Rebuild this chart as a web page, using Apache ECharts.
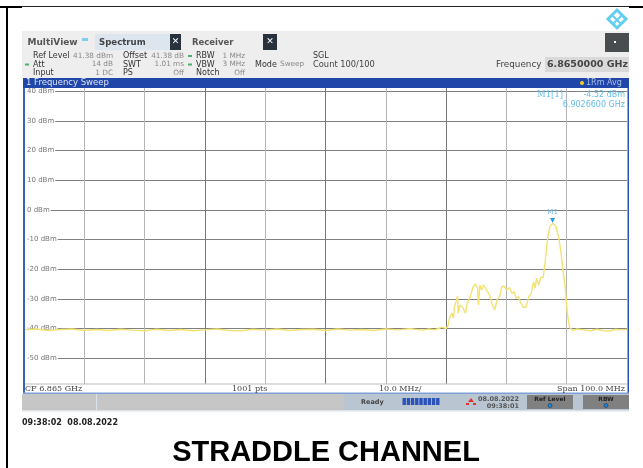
<!DOCTYPE html>
<html><head><meta charset="utf-8">
<script src="https://cdn.jsdelivr.net/npm/echarts@6/dist/echarts.min.js"></script>
<style>html,body{margin:0;padding:0;background:#fff}#c{width:643px;height:468px}</style>
</head><body><div id="c"></div>
<script>
// Offset from span start (6.815 GHz) in MHz
const freqOffsetMHz = [0,2,4,6,8,10,12,14,16,18,20,22,24,26,28,30,32,34,36,38,40,42,44,46,48,50,52,54,56,58,60,62,64,66,
67.3,67.9,68.4,69.3,70,70.3,70.6,71,71.2,71.4,71.9,72,72.3,72.75,73.2,73.5,74,74.5,74.85,75.2,75.35,75.6,75.9,76.2,76.6,77.2,77.6,78.05,78.5,78.9,79.2,79.6,80.05,80.5,80.9,81.3,81.6,82,82.4,82.8,83.25,83.7,84.1,84.5,84.75,85,85.35,85.7,86.1,86.4,86.8,87.2,87.66,88.2,88.7,89,89.45,89.8,90.1,90.45,91.1,91.7,92.8,93.9,95,96.2,97.2,98.1,99,100];
const traceDbm = [-40.4,-40.1,-40.6,-40.3,-40.1,-40.6,-40.3,-40.6,-40.2,-40.5,-40.7,-40.2,-40.6,-40.3,-40.7,-40.4,-40.1,-40.6,-40.7,-40.2,-40.5,-40.1,-40.6,-40.3,-40.2,-40.6,-40.1,-40.5,-40.3,-40.6,-40.1,-40.4,-40,-40.5,
-40.1,-40.4,-40.2,-39.5,-40,-39.1,-36,-34.8,-36.5,-32.6,-29,-34.8,-32.1,-32.8,-34.8,-31.5,-29.2,-25.8,-24.9,-26.1,-32,-25.3,-27,-25.2,-26.7,-28.6,-31.5,-33.7,-30.1,-29.2,-26.1,-25.6,-27,-26.1,-28.1,-27.5,-29.8,-29.2,-31.5,-32.8,-32.8,-29.2,-28.1,-24.2,-26.4,-23,-25.3,-22.7,-22.7,-18,-10.1,-5.6,-4.52,-5.4,-9.6,-13.5,-21.3,-27,-34.8,-39.5,-40.7,-40.1,-40.4,-40.7,-40.2,-40.7,-40.8,-40.2,-40.4,-40.3];
const yTicks = [-50,-40,-30,-20,-10,0,10,20,30,40];
const markerPoint = [87.66,-4.52];
const readyBarSegments = [0,1,2,3,4,5,6,7,8];

const T=(x,y,text,o={})=>({type:'text',silent:true,z:20,x,y,style:Object.assign({text,fill:'#555',font:'8px "DejaVu Sans"',textAlign:'left',textVerticalAlign:'middle'},o)});
const R=(x,y,w,h,fill,z=5)=>({type:'rect',silent:true,z,shape:{x,y,width:w,height:h},style:{fill}});
const sans='"DejaVu Sans"', ser='"DejaVu Serif"';
const val='7.3px '+sans, cy='#63bde6';
const deco=[
 // page frame
 R(0,6,643,1,'#222'),R(0,6,22,2,'#000'),R(629,6,14,2,'#000'),R(6,6,2,462,'#000'),
 // logo
 {type:'polygon',silent:true,z:6,shape:{points:[[617,10],[626,19],[617,28],[608,19]]},style:{fill:'none',stroke:'#62cfee',lineWidth:3}},
 {type:'polyline',silent:true,z:6,shape:{points:[[612,15],[621,24]]},style:{stroke:'#62cfee',lineWidth:2}},
 {type:'polyline',silent:true,z:6,shape:{points:[[622,15],[613,24]]},style:{stroke:'#62cfee',lineWidth:2}},
 // toolbar
 R(22,31,607,47,'#eeeeee'),
 R(95,34,75,16,'#dde6ee',6),R(170,34,11,16,'#27323c',6),R(263,34,14,16,'#27323c',6),R(605,33,24,19,'#484d50',6),
 R(82,38,6,3,'#7fd0f0',6),R(614,41,2,2,'#fff',7),
 R(545,57,84,15,'#d9d9d9',6),
 T(175.5,42,'✕',{fill:'#fff',font:'bold 9px '+sans,textAlign:'center'}),
 T(270,42,'✕',{fill:'#fff',font:'bold 9px '+sans,textAlign:'center'}),
 T(27.5,42.5,'MultiView',{font:'bold 9px '+sans,fill:'#555'}),
 T(99,42.5,'Spectrum',{font:'bold 8.6px '+sans,fill:'#444'}),
 T(192,42.5,'Receiver',{font:'bold 8.5px '+sans,fill:'#555'}),
 T(33,56,'Ref Level',{fill:'#333'}),T(113,56,'41.38 dBm',{textAlign:'right',fill:'#888',font:val}),
 T(33,64.5,'Att',{fill:'#333'}),T(113,64.5,'14 dB',{textAlign:'right',fill:'#888',font:val}),
 T(33,73,'Input',{fill:'#333'}),T(113,73,'1 DC',{textAlign:'right',fill:'#888',font:val}),
 T(123,56,'Offset',{fill:'#333'}),T(184,56,'41.38 dB',{textAlign:'right',fill:'#888',font:val}),
 T(123,64.5,'SWT',{fill:'#333'}),T(184,64.5,'1.01 ms',{textAlign:'right',fill:'#888',font:val}),
 T(123,73,'PS',{fill:'#333'}),T(184,73,'Off',{textAlign:'right',fill:'#888',font:val}),
 R(188,55,4,2,'#4caf70',6),R(188,63.5,4,2,'#4caf70',6),R(25,63.5,4,2,'#4caf70',6),
 T(196,56,'RBW',{fill:'#333'}),T(245,56,'1 MHz',{textAlign:'right',fill:'#888',font:val}),
 T(196,64.5,'VBW',{fill:'#333'}),T(245,64.5,'3 MHz',{textAlign:'right',fill:'#888',font:val}),
 T(196,73,'Notch',{fill:'#333'}),T(245,73,'Off',{textAlign:'right',fill:'#888',font:val}),
 T(255,64.5,'Mode',{fill:'#333'}),T(280,64.5,'Sweep',{fill:'#888',font:val}),
 T(313,56,'SGL',{fill:'#333'}),T(313,64.5,'Count 100/100',{fill:'#444',font:'8.3px '+sans}),
 T(496,65,'Frequency',{font:'8.8px '+sans,fill:'#444'}),
 T(628,65,'6.8650000 GHz',{font:'bold 9.5px '+sans,fill:'#444',textAlign:'right'}),
 // sweep header
 R(23,78,606,10,'#2046aa'),
 T(26,83,'1 Frequency Sweep',{font:'8.5px '+sans,fill:'#dfe6f5'}),
 {type:'circle',silent:true,z:20,shape:{cx:582,cy:83,r:2},style:{fill:'#f2d21c'}},
 T(586,83,'1Rm Avg',{font:'8px '+sans,fill:'#a9bfe8'}),
 // plot border
 R(23,88,2,305,'#3a62bb',15),R(627.5,88,1.5,305,'#2a50b0',15),R(23,392.5,606,1.5,'#7f9fd8',15),
 R(25,384,602,8.5,'#fff',3),R(25,383.5,602,1,'#bbb',4),
 T(25,389,'CF 6.865 GHz',{font:'8px '+ser,fill:'#444'}),
 T(232,389,'1001 pts',{font:'8px '+ser,fill:'#444'}),
 T(379,389,'10.0 MHz/',{font:'8px '+ser,fill:'#444'}),
 T(625,389,'Span 100.0 MHz',{font:'8px '+ser,fill:'#444',textAlign:'right'}),
 // marker readout
 T(537,94.5,'M1[1]',{font:'8.5px '+ser,fill:cy}),
 T(625,94.5,'-4.52 dBm',{font:'8px '+sans,fill:cy,textAlign:'right'}),
 T(625,104.5,'6.9026600 GHz',{font:'8px '+sans,fill:cy,textAlign:'right'}),
 // status bar
 R(22,394,322,16.5,'#c6c6c6'),R(344,394,285,16.5,'#b9c6d1'),R(22,410.5,607,1,'#dde4ea'),R(96,394,1,16.5,'#dbe3ea',6),
 T(361,402,'Ready',{font:'bold 6.5px '+sans,fill:'#444'}),
 ...readyBarSegments.map(i=>R(402.5+i*4.2,398,3.4,7,'#2a52b8',6)),
 {type:'polygon',silent:true,z:6,shape:{points:[[471,398],[474,402],[468,402]]},style:{fill:'#e0342c'}},
 R(466,403,3,2,'#e0342c',6),R(473,403,3,2,'#e0342c',6),
 T(519,399,'08.08.2022',{font:'bold 6.5px '+sans,fill:'#555',textAlign:'right'}),
 T(519,406,'09:38:01',{font:'bold 6.5px '+sans,fill:'#555',textAlign:'right'}),
 R(527,395,46,14,'#808080',6),R(583,395,46,14,'#808080',6),
 T(550,399,'Ref Level',{font:'bold 6px '+sans,fill:'#222',textAlign:'center'}),
 T(606,399,'RBW',{font:'bold 6px '+sans,fill:'#222',textAlign:'center'}),
 {type:'circle',silent:true,z:20,shape:{cx:550,cy:405.5,r:2},style:{fill:'#1e88e0',stroke:'#123',lineWidth:.5}},
 {type:'circle',silent:true,z:20,shape:{cx:606,cy:405.5,r:2},style:{fill:'#1e88e0',stroke:'#123',lineWidth:.5}},
 // captions
 T(22,422.5,'09:38:02  08.08.2022',{font:'bold 8px '+sans,fill:'#222'}),
 T(326,452.5,'STRADDLE CHANNEL',{font:'bold 29px "Liberation Sans"',fill:'#000',textAlign:'center'})
];
const chart=echarts.init(document.getElementById('c'),null,{renderer:'canvas'});
chart.setOption({
 animation:false,
 grid:{left:24,right:16,top:87.2,height:296.7,show:false},
 xAxis:{type:'value',min:0,max:100,interval:10,
  axisLine:{show:false},axisTick:{show:false},axisLabel:{show:false},
  splitLine:{show:true,showMinLine:false,showMaxLine:false,lineStyle:{width:1,color:['#b5b5b5','#b5b5b5','#777','#b5b5b5','#777','#b5b5b5','#777','#b5b5b5','#b5b5b5']}}},
 yAxis:{type:'value',min:-58.62,max:41.38,
  axisLine:{show:false},axisTick:{show:false,customValues:yTicks},
  axisLabel:{inside:true,margin:1,customValues:yTicks,color:'#777',fontSize:7,fontFamily:'DejaVu Sans',backgroundColor:'#fff',padding:[0,1,0,2],formatter:v=>v+' dBm'},
  splitLine:{show:true,lineStyle:{color:'#808080',width:1}}},
 series:[{type:'line',data:freqOffsetMHz.map((x,i)=>[x,traceDbm[i]]),showSymbol:false,symbol:'none',z:5,
  lineStyle:{color:'#f2e272',width:1.4},
  markPoint:{symbol:'triangle',symbolRotate:180,symbolSize:5,symbolOffset:[0,-3],itemStyle:{color:'#2c9be8'},
   label:{show:true,position:'top',distance:2,formatter:'M1',color:'#6fb9e6',fontSize:7,fontFamily:'DejaVu Sans'},
   data:[{coord:markerPoint}]}}],
 graphic:deco
});
</script></body></html>
